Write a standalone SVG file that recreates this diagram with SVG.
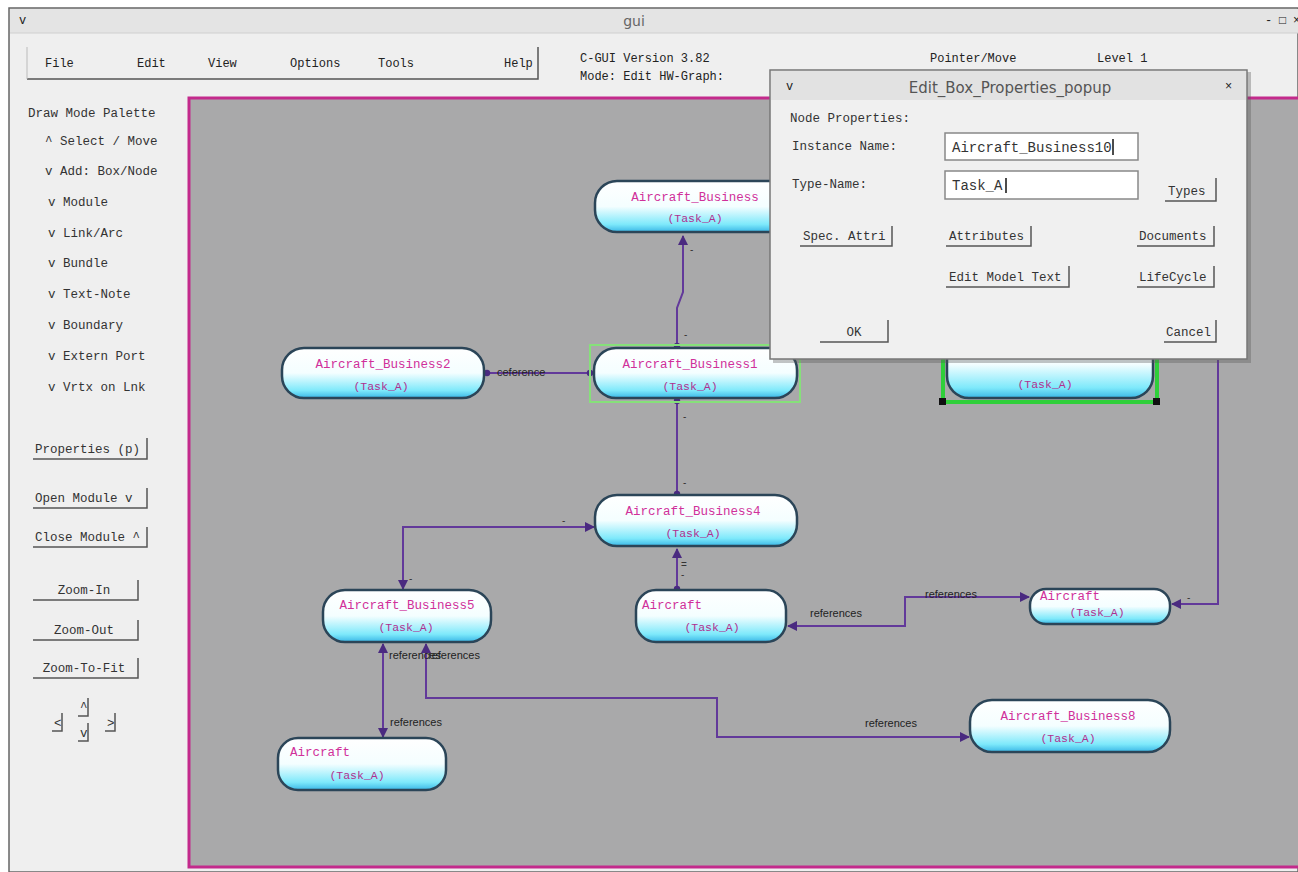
<svg xmlns="http://www.w3.org/2000/svg" width="1298" height="872" viewBox="0 0 1298 872">
  <style>
    .ui { font-family: "Liberation Mono", "DejaVu Sans Mono", monospace; font-size: 12px; fill: #222; }
    .pal { font-family: "Liberation Mono", "DejaVu Sans Mono", monospace; font-size: 12.5px; fill: #333; }
    .fld { font-family: "Liberation Mono", "DejaVu Sans Mono", monospace; font-size: 14px; fill: #333; }
    .bedge { fill: none; stroke: #555; stroke-width: 1.5; }
    .node { fill: url(#nodeFill); stroke: #2b4558; stroke-width: 2.5; }
    .nname { font-family: "Liberation Mono", "DejaVu Sans Mono", monospace; font-size: 12.5px; fill: #d0309a; }
    .ntype { font-family: "Liberation Mono", "DejaVu Sans Mono", monospace; font-size: 11.5px; fill: #b0308f; text-anchor: middle; }
    .link { fill: none; stroke: #62399a; stroke-width: 2; }
    .lbl { font-family: "Liberation Sans", Arial, sans-serif; font-size: 11px; fill: #222; }
    .tick { font-family: "Liberation Sans", Arial, sans-serif; font-size: 10px; fill: #333; }
    .field { fill: #ffffff; stroke: #888; stroke-width: 1.5; }
  </style>
  <defs>
    <linearGradient id="nodeFill" x1="0" y1="0" x2="0" y2="1">
      <stop offset="0" stop-color="#ffffff"/>
      <stop offset="0.5" stop-color="#f4feff"/>
      <stop offset="0.85" stop-color="#7ee9fb"/>
      <stop offset="1" stop-color="#3ab7e6"/>
    </linearGradient>
    <marker id="ah" viewBox="0 0 10 10" refX="9" refY="5" markerWidth="5" markerHeight="5" orient="auto-start-reverse">
      <path d="M0,0 L10,5 L0,10 z" fill="#4a2a80"/>
    </marker>
    <marker id="dot" viewBox="0 0 10 10" refX="5" refY="5" markerWidth="4" markerHeight="4">
      <circle cx="5" cy="5" r="4" fill="#4a2a80"/>
    </marker>
  </defs>

  <!-- window frame -->
  <rect x="0" y="0" width="1298" height="872" fill="#ffffff"/>
  <rect x="9" y="8" width="1289" height="864" fill="#efefef" stroke="#666" stroke-width="1.5"/>
  <rect x="10" y="9" width="1288" height="24" fill="#e4e4e4"/>
  <line x1="10" y1="33" x2="1298" y2="33" stroke="#d0d0d0"/>
  <text x="19" y="24" class="ui" font-size="10" fill="#777">v</text>
  <text x="634" y="26" font-family="DejaVu Sans, sans-serif" font-size="14" fill="#666" text-anchor="middle">gui</text>
  <text x="1265" y="24" class="ui" font-size="10" fill="#888">-</text>
  <text x="1279" y="24" class="ui" font-size="10" fill="#888">□</text>
  <text x="1293" y="24" class="ui" font-size="10" fill="#888">×</text>

  <!-- menu bar -->
  <g id="menubar">
    <rect x="27" y="47" width="511" height="32" fill="#efefef"/>
    <path d="M27,79 L538,79 L538,47" class="bedge"/>
    <line x1="27" y1="47" x2="27" y2="79" stroke="#bbb"/>
    <text x="45" y="67" class="ui">File</text>
    <text x="137" y="67" class="ui">Edit</text>
    <text x="208" y="67" class="ui">View</text>
    <text x="290" y="67" class="ui">Options</text>
    <text x="378" y="67" class="ui">Tools</text>
    <text x="504" y="67" class="ui">Help</text>
  </g>
  <g id="status">
    <text x="580" y="62" class="ui">C-GUI Version 3.82</text>
    <text x="580" y="80" class="ui">Mode:  Edit HW-Graph:</text>
    <text x="930" y="62" class="ui">Pointer/Move</text>
    <text x="1097" y="62" class="ui">Level 1</text>
  </g>

  <!-- left palette -->
  <g id="palette">
    <text x="28" y="117" class="pal">Draw Mode Palette</text>
    <text x="45" y="145" class="pal">^ Select / Move</text>
    <text x="45" y="175" class="pal">v Add: Box/Node</text>
    <text x="48" y="206" class="pal">v   Module</text>
    <text x="48" y="237" class="pal">v   Link/Arc</text>
    <text x="48" y="267" class="pal">v   Bundle</text>
    <text x="48" y="298" class="pal">v   Text-Note</text>
    <text x="48" y="329" class="pal">v   Boundary</text>
    <text x="48" y="360" class="pal">v   Extern Port</text>
    <text x="48" y="391" class="pal">v   Vrtx on Lnk</text>

    <path d="M33,459 L147,459 L147,438" class="bedge"/>
    <text x="35" y="453" class="pal">Properties (p)</text>
    <path d="M33,508 L147,508 L147,488" class="bedge"/>
    <text x="35" y="502" class="pal">Open Module  v</text>
    <path d="M33,547 L147,547 L147,527" class="bedge"/>
    <text x="35" y="541" class="pal">Close Module ^</text>

    <path d="M33,600 L138,600 L138,580" class="bedge"/>
    <text x="84" y="594" class="pal" text-anchor="middle">Zoom-In</text>
    <path d="M33,640 L138,640 L138,620" class="bedge"/>
    <text x="84" y="634" class="pal" text-anchor="middle">Zoom-Out</text>
    <path d="M33,678 L138,678 L138,658" class="bedge"/>
    <text x="84" y="672" class="pal" text-anchor="middle">Zoom-To-Fit</text>

    <path d="M52,731 L62,731 L62,713" class="bedge"/>
    <text x="54" y="727" class="pal">&lt;</text>
    <path d="M78,716 L88,716 L88,698" class="bedge"/>
    <text x="80" y="711" class="pal">^</text>
    <path d="M78,741 L88,741 L88,723" class="bedge"/>
    <text x="80" y="737" class="pal">v</text>
    <path d="M105,731 L115,731 L115,713" class="bedge"/>
    <text x="107" y="727" class="pal">&gt;</text>
  </g>

  <!-- drawing canvas -->
  <rect x="189" y="98" width="1120" height="769" fill="#a9a9aa" stroke="#c32a8c" stroke-width="3"/>

  <!-- connectors -->
  <g id="connectors">
    <path d="M683,236 L683,292 L677,308 L677,346" class="link" marker-start="url(#ah)" marker-end="url(#dot)"/>
    <path d="M677,401 L677,494" class="link" marker-start="url(#dot)" marker-end="url(#dot)"/>
    <path d="M487,373 L590,373" class="link" marker-start="url(#dot)" marker-end="url(#dot)"/>
    <path d="M403,589 L403,527 L594,527" class="link" marker-start="url(#ah)" marker-end="url(#ah)"/>
    <path d="M677,549 L677,589" class="link" marker-start="url(#ah)" marker-end="url(#dot)"/>
    <path d="M788,626 L905,626 L905,597 L1029,597" class="link" marker-start="url(#ah)" marker-end="url(#ah)"/>
    <path d="M1218,360 L1218,604 L1172,604" class="link" marker-end="url(#ah)"/>
    <path d="M383,644 L383,737" class="link" marker-start="url(#ah)" marker-end="url(#ah)"/>
    <path d="M426,644 L426,698 L717,698 L717,737 L969,737" class="link" marker-start="url(#ah)" marker-end="url(#ah)"/>

    <text x="690" y="253" class="tick">-</text>
    <text x="684" y="338" class="tick">-</text>
    <text x="683" y="420" class="tick">-</text>
    <text x="683" y="486" class="tick">-</text>
    <text x="562" y="524" class="tick">-</text>
    <text x="409" y="582" class="tick">-</text>
    <text x="681" y="568" class="tick">=</text>
    <text x="681" y="578" class="tick">-</text>
    <text x="1187" y="601" class="tick">-</text>

    <text x="497" y="376" class="lbl">ceference</text>
    <text x="810" y="617" class="lbl">references</text>
    <text x="925" y="598" class="lbl">references</text>
    <!-- two link labels drawn on top of each other at the same spot -->
    <text x="389" y="659" class="lbl">references</text>
    <text x="428" y="659" class="lbl">references</text>
    <text x="390" y="726" class="lbl">references</text>
    <text x="865" y="727" class="lbl">references</text>
  </g>

  <!-- nodes -->
  <g id="node-business">
    <rect x="595" y="181" width="205" height="51" rx="22" class="node"/>
    <text x="695" y="201" class="nname" text-anchor="middle">Aircraft_Business</text>
    <text x="695" y="222" class="ntype">(Task_A)</text>
  </g>
  <g id="node-business1">
    <rect x="590" y="345" width="210" height="57" fill="none" stroke="#86e07a" stroke-width="2"/>
    <rect x="594" y="348" width="203" height="50" rx="22" class="node"/>
    <text x="690" y="368" class="nname" text-anchor="middle">Aircraft_Business1</text>
    <text x="690" y="390" class="ntype">(Task_A)</text>
  </g>
  <g id="node-business2">
    <rect x="282" y="348" width="202" height="50" rx="22" class="node"/>
    <text x="383" y="368" class="nname" text-anchor="middle">Aircraft_Business2</text>
    <text x="381" y="390" class="ntype">(Task_A)</text>
  </g>
  <g id="node-business10">
    <rect x="943" y="330" width="214" height="72" fill="none" stroke="#2fcf3a" stroke-width="4"/>
    <rect x="947" y="330" width="206" height="68" rx="22" class="node"/>
    <text x="1045" y="388" class="ntype">(Task_A)</text>
    <rect x="939" y="398" width="7" height="7" fill="#111"/>
    <rect x="1153" y="398" width="7" height="7" fill="#111"/>
  </g>
  <g id="node-business4">
    <rect x="595" y="495" width="202" height="51" rx="22" class="node"/>
    <text x="693" y="515" class="nname" text-anchor="middle">Aircraft_Business4</text>
    <text x="693" y="537" class="ntype">(Task_A)</text>
  </g>
  <g id="node-business5">
    <rect x="323" y="590" width="168" height="52" rx="22" class="node"/>
    <text x="407" y="609" class="nname" text-anchor="middle">Aircraft_Business5</text>
    <text x="406" y="631" class="ntype">(Task_A)</text>
  </g>
  <g id="node-aircraft-mid">
    <rect x="636" y="590" width="150" height="52" rx="20" class="node"/>
    <text x="642" y="609" class="nname">Aircraft</text>
    <text x="712" y="631" class="ntype">(Task_A)</text>
  </g>
  <g id="node-aircraft-right">
    <rect x="1030" y="589" width="140" height="35" rx="16" class="node"/>
    <text x="1040" y="600" class="nname">Aircraft</text>
    <text x="1097" y="616" class="ntype">(Task_A)</text>
  </g>
  <g id="node-business8">
    <rect x="970" y="700" width="200" height="52" rx="22" class="node"/>
    <text x="1068" y="720" class="nname" text-anchor="middle">Aircraft_Business8</text>
    <text x="1068" y="742" class="ntype">(Task_A)</text>
  </g>
  <g id="node-aircraft-bottom">
    <rect x="278" y="738" width="168" height="52" rx="20" class="node"/>
    <text x="290" y="756" class="nname">Aircraft</text>
    <text x="357" y="779" class="ntype">(Task_A)</text>
  </g>

  <!-- properties dialog -->
  <g id="popup">
    <rect x="773" y="72" width="478" height="291" fill="#555" opacity="0.35"/>
    <rect x="770" y="70" width="477" height="289" fill="#f0f0f0" stroke="#777" stroke-width="1.5"/>
    <rect x="771" y="71" width="475" height="29" fill="#e2e2e2"/>
    <text x="786" y="90" class="ui" font-size="10" fill="#888">v</text>
    <text x="1010" y="93" font-family="DejaVu Sans, sans-serif" font-size="15" fill="#555" text-anchor="middle">Edit_Box_Properties_popup</text>
    <text x="1225" y="90" class="ui" font-size="10" fill="#999">×</text>

    <text x="790" y="122" class="pal">Node Properties:</text>
    <text x="792" y="150" class="pal">Instance Name:</text>
    <rect x="945" y="133" width="193" height="27" class="field"/>
    <text x="952" y="152" class="fld">Aircraft_Business10</text>
    <line x1="1113" y1="139" x2="1113" y2="155" stroke="#111" stroke-width="1.5"/>
    <text x="792" y="188" class="pal">Type-Name:</text>
    <rect x="945" y="171" width="193" height="28" class="field"/>
    <text x="952" y="190" class="fld">Task_A</text>
    <line x1="1006" y1="178" x2="1006" y2="193" stroke="#111" stroke-width="1.5"/>

    <path d="M1165,201 L1216,201 L1216,178" class="bedge"/>
    <text x="1168" y="195" class="pal">Types</text>
    <path d="M800,246 L892,246 L892,226" class="bedge"/>
    <text x="803" y="240" class="pal">Spec. Attri</text>
    <path d="M946,246 L1031,246 L1031,226" class="bedge"/>
    <text x="949" y="240" class="pal">Attributes</text>
    <path d="M1137,246 L1214,246 L1214,226" class="bedge"/>
    <text x="1139" y="240" class="pal">Documents</text>
    <path d="M946,287 L1069,287 L1069,266" class="bedge"/>
    <text x="949" y="281" class="pal">Edit Model Text</text>
    <path d="M1137,287 L1214,287 L1214,266" class="bedge"/>
    <text x="1139" y="281" class="pal">LifeCycle</text>
    <path d="M820,342 L888,342 L888,320" class="bedge"/>
    <text x="854" y="336" class="pal" text-anchor="middle">OK</text>
    <path d="M1164,342 L1216,342 L1216,320" class="bedge"/>
    <text x="1166" y="336" class="pal">Cancel</text>
  </g>
</svg>
